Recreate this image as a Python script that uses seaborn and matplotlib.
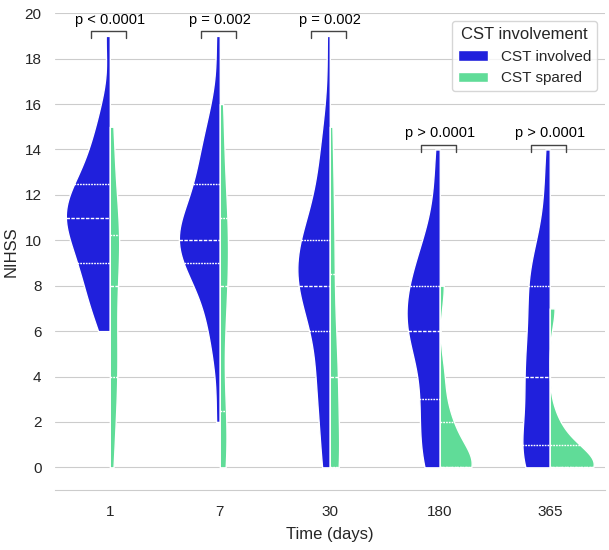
import pandas as pd
import seaborn as sns
import matplotlib.pyplot as plt

# --- data ---
TIMES = ['1', '7', '30', '180', '365']
GROUPS = ['CST involved', 'CST spared']
COLORS = ['#2020dc', '#60dc98']

# NIHSS per patient, CST involved
involved_d1 = [6, 7, 7, 8, 8, 9, 9, 9, 10, 10, 10, 11, 11, 11, 11, 11, 12, 12, 12, 12, 13, 13, 14, 14, 15, 16, 19]
involved_d7 = [2, 5, 6, 7, 8, 8, 9, 9, 9, 10, 10, 10, 10, 10, 10, 11, 11, 11, 12, 12, 13, 13, 14, 14, 15, 16, 19]
involved_d30 = [0, 0, 2, 3, 4, 4, 5, 7, 7, 7, 8, 8, 8, 8, 9, 9, 9, 10, 10, 10, 10, 11, 12, 13, 14, 15, 19]
involved_d180 = [0, 0, 0, 1, 2, 2, 3, 3, 4, 5, 5, 6, 6, 6, 6, 7, 7, 7, 8, 8, 8, 9, 9, 10, 10, 12, 14]
involved_d365 = [0, 0, 0, 0, 0, 1, 1, 1, 2, 3, 3, 4, 4, 4, 5, 5, 6, 6, 7, 8, 8, 8, 9, 9, 10, 12, 14]

# NIHSS per patient, CST spared
spared_d1 = [0, 2, 4, 4, 6, 7, 9, 10, 10, 11, 13, 15]
spared_d7 = [0, 1, 1, 3, 6, 8, 8, 10, 11, 11, 14, 16]
spared_d30 = [0, 0, 0, 0, 3, 4, 4, 6, 8, 10, 12, 15]
spared_d180 = [0, 0, 0, 0, 0, 0, 0, 1, 2, 2, 4, 8]
spared_d365 = [0, 0, 0, 0, 0, 0, 0, 0, 1, 1, 2, 7]

P_LABELS = ['p < 0.0001', 'p = 0.002', 'p = 0.002', 'p > 0.0001', 'p > 0.0001']


def main():
    involved = [involved_d1, involved_d7, involved_d30, involved_d180, involved_d365]
    spared = [spared_d1, spared_d7, spared_d30, spared_d180, spared_d365]

    rows = []
    for t, inv, spa in zip(TIMES, involved, spared):
        rows += [(t, GROUPS[0], v) for v in inv]
        rows += [(t, GROUPS[1], v) for v in spa]
    df = pd.DataFrame(rows, columns=['Time (days)', 'CST involvement', 'NIHSS'])

    sns.set_style('whitegrid')
    plt.rcParams['font.family'] = ['Liberation Sans', 'DejaVu Sans']

    fig, ax = plt.subplots(figsize=(6.09, 5.5), dpi=100)
    # area scaling, normalised separately for each hue level
    sns.violinplot(data=df, x='Time (days)', y='NIHSS', hue='CST involvement',
                   order=TIMES, hue_order=GROUPS, palette=COLORS,
                   split=True, inner='quart', cut=0, density_norm='area',
                   common_norm=False, bw_method=0.4, linecolor='white',
                   linewidth=1, saturation=1, ax=ax)

    ax.set_ylim(-1, 20)
    ax.set_yticks(range(0, 21, 2))
    ax.set_xlim(-0.5, 4.5)
    sns.despine(ax=ax, left=True)
    ax.tick_params(labelsize=11, colors='#262626')
    ax.tick_params(axis='x', pad=7)
    ax.tick_params(axis='y', pad=6)
    ax.set_xlabel('Time (days)', fontsize=12, labelpad=6)
    ax.set_ylabel('NIHSS', fontsize=12)

    # significance brackets
    for i, (inv, spa, lab) in enumerate(zip(involved, spared, P_LABELS)):
        top = max(max(inv), max(spa))
        y0, y1 = top - 0.1, top + 0.2
        ax.plot([i - 0.17, i - 0.17, i + 0.15, i + 0.15], [y0, y1, y1, y0],
                color='#444444', lw=1)
        ax.text(i, y1 + 0.2, lab, ha='center', va='bottom', fontsize=10.5, color='black')

    leg = ax.legend(title='CST involvement', loc='upper right', fontsize=11,
                    title_fontsize=12, frameon=True)
    leg.get_frame().set_edgecolor('#cccccc')

    fig.subplots_adjust(left=0.09, right=0.993, bottom=0.109, top=0.976)
    fig.savefig('out.png', dpi=100)


if __name__ == '__main__':
    main()
